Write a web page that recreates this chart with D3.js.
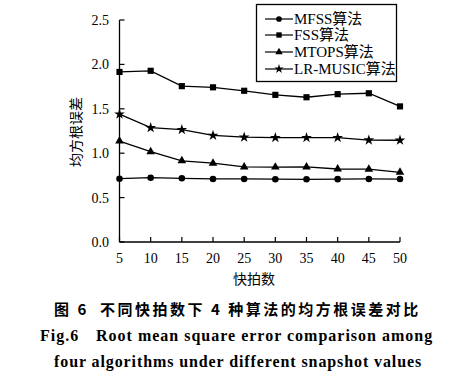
<!DOCTYPE html>
<html>
<head>
<meta charset="utf-8">
<script src="https://cdn.jsdelivr.net/npm/d3@7"></script>
<style>
	body { margin: 0; background: #fff; }
	text { fill: #000; }
	.tick-label { font-family: "Liberation Serif", "DejaVu Serif", serif; font-size: 14px; }
	.cjk { font-family: "Noto Sans CJK SC", sans-serif; }
</style>
</head>
<body>
<script>
// snapshot counts on the x axis
var snapshots = [5, 10, 15, 20, 25, 30, 35, 40, 45, 50];
var yTicks = [0.0, 0.5, 1.0, 1.5, 2.0, 2.5];

// RMSE of each algorithm
var mfss    = [0.713, 0.724, 0.717, 0.710, 0.710, 0.707, 0.706, 0.708, 0.710, 0.709];
var fss     = [1.915, 1.928, 1.755, 1.742, 1.703, 1.657, 1.630, 1.665, 1.675, 1.527];
var mtops   = [1.137, 1.017, 0.914, 0.888, 0.845, 0.843, 0.845, 0.822, 0.820, 0.785];
var lrMusic = [1.440, 1.287, 1.265, 1.200, 1.180, 1.175, 1.175, 1.175, 1.148, 1.146];

var seriesNames = ["MFSS算法", "FSS算法", "MTOPS算法", "LR-MUSIC算法"];
var seriesValues = [mfss, fss, mtops, lrMusic];
var seriesSymbols = [d3.symbolCircle, d3.symbolSquare, d3.symbolTriangle, d3.symbolStar];
var symbolSizes = [34, 38, 32, 36];

var width = 476, height = 380;
var svg = d3.select('body')
	.append('svg')
	.attr('width', width)
	.attr('height', height);

var x = d3.scaleLinear().domain([5, 50]).range([119.5, 400]);
var y = d3.scaleLinear().domain([0, 2.5]).range([242, 20]);

// Y axis line and inward ticks
svg.append('line')
	.attr('x1', x(5)).attr('x2', x(5))
	.attr('y1', y(2.5)).attr('y2', y(0))
	.attr('stroke', '#000').attr('stroke-width', 1.3);

svg.selectAll('.ytick')
	.data(yTicks)
	.enter().append('line')
	.attr('x1', x(5)).attr('x2', x(5) + 5)
	.attr('y1', function(d) { return y(d); })
	.attr('y2', function(d) { return y(d); })
	.attr('stroke', '#000').attr('stroke-width', 1.2);

svg.selectAll('.ylabel')
	.data(yTicks)
	.enter().append('text')
	.attr('class', 'tick-label')
	.attr('x', 109)
	.attr('y', function(d) { return y(d); })
	.attr('dy', '.35em')
	.attr('text-anchor', 'end')
	.text(function(d) { return d3.format('.1f')(d); });

// X axis line and inward ticks
svg.append('line')
	.attr('x1', x(5)).attr('x2', x(50))
	.attr('y1', y(0)).attr('y2', y(0))
	.attr('stroke', '#000').attr('stroke-width', 1.3);

svg.selectAll('.xtick')
	.data(snapshots)
	.enter().append('line')
	.attr('x1', function(d) { return x(d); })
	.attr('x2', function(d) { return x(d); })
	.attr('y1', y(0)).attr('y2', y(0) - 5)
	.attr('stroke', '#000').attr('stroke-width', 1.2);

svg.selectAll('.xlabel')
	.data(snapshots)
	.enter().append('text')
	.attr('class', 'tick-label')
	.attr('x', function(d) { return x(d); })
	.attr('y', 263)
	.attr('text-anchor', 'middle')
	.text(function(d) { return d; });

// Axis titles
svg.append('text')
	.attr('class', 'cjk')
	.attr('x', 254)
	.attr('y', 284)
	.attr('text-anchor', 'middle')
	.style('font-size', '14px')
	.text('快拍数');

svg.append('text')
	.attr('class', 'cjk')
	.attr('transform', 'translate(81,132) rotate(-90)')
	.attr('text-anchor', 'middle')
	.style('font-size', '14px')
	.text('均方根误差');

// Lines and markers
var line = d3.line()
	.x(function(d, i) { return x(snapshots[i]); })
	.y(function(d) { return y(d); });

seriesValues.forEach(function(vals, s) {
	svg.append('path')
		.datum(vals)
		.attr('d', line)
		.attr('fill', 'none')
		.attr('stroke', '#000')
		.attr('stroke-width', 1.3);

	svg.selectAll('.marker' + s)
		.data(vals)
		.enter().append('path')
		.attr('d', d3.symbol().type(seriesSymbols[s]).size(symbolSizes[s]))
		.attr('transform', function(d, i) { return 'translate(' + x(snapshots[i]) + ',' + y(d) + ')'; })
		.attr('fill', '#000');
});

// Legend
svg.append('rect')
	.attr('x', 256.5).attr('y', 4.5)
	.attr('width', 140).attr('height', 77)
	.attr('fill', '#fff')
	.attr('stroke', '#000')
	.attr('stroke-width', 1.3);

var legendY = [19, 35, 52, 69];
seriesNames.forEach(function(name, s) {
	svg.append('line')
		.attr('x1', 265).attr('x2', 293)
		.attr('y1', legendY[s]).attr('y2', legendY[s])
		.attr('stroke', '#000').attr('stroke-width', 1.2);
	svg.append('path')
		.attr('d', d3.symbol().type(seriesSymbols[s]).size(symbolSizes[s] * 0.75))
		.attr('transform', 'translate(279,' + legendY[s] + ')')
		.attr('fill', '#000');
	svg.append('text')
		.attr('x', 294)
		.attr('y', legendY[s])
		.attr('dy', '.35em')
		.style('font-family', '"Liberation Serif", "Noto Sans CJK SC", serif')
		.style('font-size', '15px')
		.text(name);
});

// Caption
var cap1 = svg.append('text')
	.attr('y', 315)
	.style('font-family', '"Noto Sans CJK SC", sans-serif')
	.style('font-size', '15px')
	.style('font-weight', 'bold')
	.style('letter-spacing', '2.5px');
cap1.append('tspan').attr('x', 54).text('图 6');
cap1.append('tspan').attr('x', 100).text('不同快拍数下 4 种算法的均方根误差对比');

var cap2 = svg.append('text')
	.attr('y', 341)
	.style('font-family', '"Liberation Serif", serif')
	.style('font-size', '16px')
	.style('font-weight', 'bold')
	.style('letter-spacing', '1px');
cap2.append('tspan').attr('x', 40).text('Fig.6');
cap2.append('tspan').attr('x', 96).text('Root mean square error comparison among');

svg.append('text')
	.attr('x', 54)
	.attr('y', 367)
	.style('font-family', '"Liberation Serif", serif')
	.style('font-size', '16px')
	.style('font-weight', 'bold')
	.style('letter-spacing', '0.9px')
	.text('four algorithms under different snapshot values');
</script>
</body>
</html>
